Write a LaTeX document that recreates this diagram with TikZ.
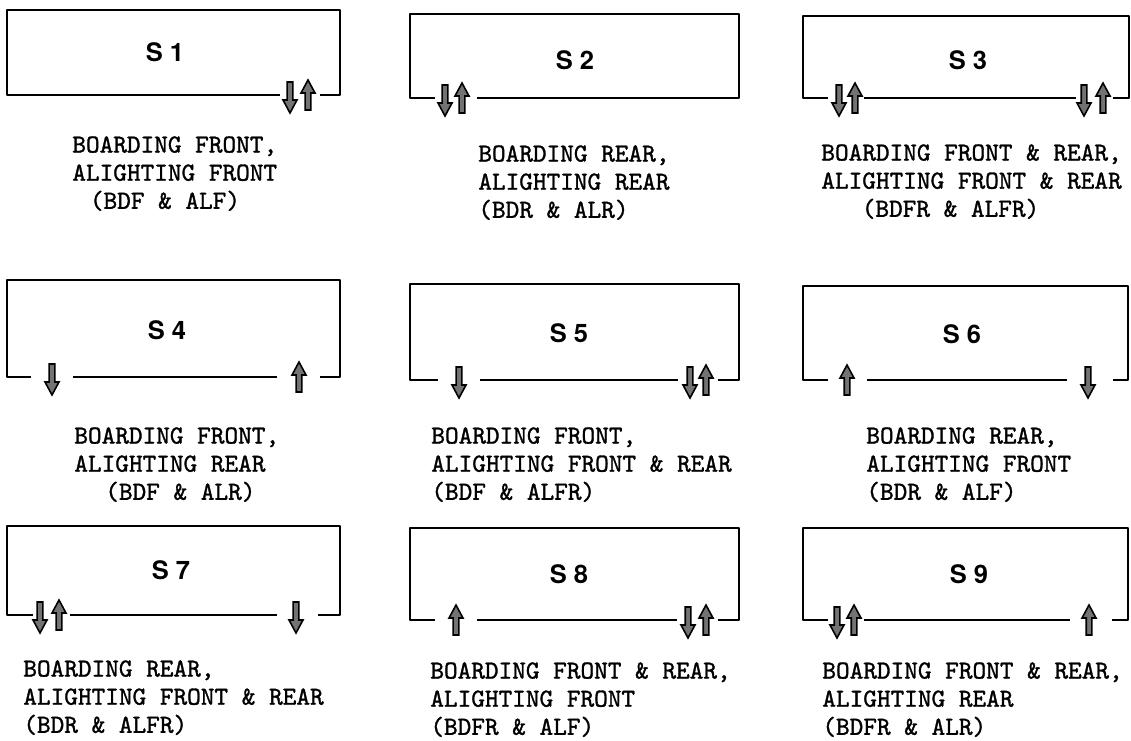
\documentclass[tikz,border=0pt]{standalone}
\usepackage{fontspec}
\newfontfamily\headfont{TeX Gyre Heros}
\newfontfamily\typefont{lmmono10-regular.otf}[FakeBold=1.2]

\begin{document}
\begin{tikzpicture}[x=0.02cm, y=-0.02cm,
    boxline/.style={line width=1.3pt, line join=round},
    lbl/.style={font=\headfont\bfseries\fontsize{14.5}{16}\selectfont},
    captxt/.style={anchor=north west, inner sep=0pt, align=left, font=\typefont\fontsize{14.8}{16}\selectfont},
    arr/.style={fill=black!55, draw=black, line width=0.9pt, line join=miter},
    dnarr/.pic={\path[arr] (-2.8,-13) -- (2.8,-13) -- (2.8,5) -- (7,5) -- (0,18) -- (-7,5) -- (-2.8,5) -- cycle;},
    uparr/.pic={\path[arr] (-2.8,15) -- (2.8,15) -- (2.8,-2) -- (7,-2) -- (0,-15) -- (-7,-2) -- (-2.8,-2) -- cycle;}]
    \useasboundingbox (0,0) rectangle (1131,740);

    \draw[boxline] (280,95) -- (7,95) -- (7,10) -- (340,10) -- (340,95) -- (320,95);
    \pic at (290,95) {dnarr};
    \pic at (308,95) {uparr};
    \node[lbl] (s1) at (165,52) {S 1};
    \node[captxt] (c1) at (72,136) {BOARDING FRONT,\\ALIGHTING FRONT\\\hspace*{10pt}(BDF \& ALF)};

    \draw[boxline] (435,98) -- (410,98) -- (410,14) -- (739,14) -- (739,98) -- (477,98);
    \pic at (445,98) {dnarr};
    \pic at (462,98) {uparr};
    \node[lbl] (s2) at (575,60) {S 2};
    \node[captxt] (c2) at (478,145) {BOARDING REAR,\\ALIGHTING REAR\\(BDR \& ALR)};

    \draw[boxline] (828,98) -- (803,98) -- (803,16) -- (1129,16) -- (1129,98) -- (1113,98);
    \draw[boxline] (864,98) -- (1076,98);
    \pic at (839,98) {dnarr};
    \pic at (855,98) {uparr};
    \pic at (1084,98) {dnarr};
    \pic at (1103,98) {uparr};
    \node[lbl] (s3) at (968,60) {S 3};
    \node[captxt] (c3) at (821,144) {BOARDING FRONT \& REAR,\\ALIGHTING FRONT \& REAR\\\hspace*{23pt}(BDFR \& ALFR)};

    \draw[boxline] (31,377) -- (7,377) -- (7,280) -- (340,280) -- (340,377) -- (320,377);
    \draw[boxline] (73,377) -- (277,377);
    \pic at (52,377) {dnarr};
    \pic at (299,377) {uparr};
    \node[lbl] (s4) at (167,330) {S 4};
    \node[captxt] (c4) at (74,427) {BOARDING FRONT,\\ALIGHTING REAR\\\hspace*{17.6pt}(BDF \& ALR)};

    \draw[boxline] (438,380) -- (410,380) -- (410,284) -- (739,284) -- (739,380) -- (718,380);
    \draw[boxline] (480,380) -- (678,380);
    \pic at (459,380) {dnarr};
    \pic at (690,380) {dnarr};
    \pic at (706,380) {uparr};
    \node[lbl] (s5) at (569,333) {S 5};
    \node[captxt] (c5) at (431,427) {BOARDING FRONT,\\ALIGHTING FRONT \& REAR\\(BDF \& ALFR)};

    \draw[boxline] (828,380) -- (803,380) -- (803,286) -- (1128,286) -- (1128,380) -- (1113,380);
    \draw[boxline] (867,380) -- (1067,380);
    \pic at (847,380) {uparr};
    \pic at (1088,380) {dnarr};
    \node[lbl] (s6) at (962,334) {S 6};
    \node[captxt] (c6) at (866,427) {BOARDING REAR,\\ALIGHTING FRONT\\(BDR \& ALF)};

    \draw[boxline] (33,615) -- (7,615) -- (7,526) -- (340,526) -- (340,615) -- (318,615);
    \draw[boxline] (70,615) -- (277,615);
    \pic at (40,615) {dnarr};
    \pic at (59,615) {uparr};
    \pic at (296,615) {dnarr};
    \node[lbl] (s7) at (171,570) {S 7};
    \node[captxt] (c7) at (23,660) {BOARDING REAR,\\ALIGHTING FRONT \& REAR\\(BDR \& ALFR)};

    \draw[boxline] (435,620) -- (410,620) -- (410,528) -- (739,528) -- (739,620) -- (718,620);
    \draw[boxline] (477,620) -- (677,620);
    \pic at (456,620) {uparr};
    \pic at (688,620) {dnarr};
    \pic at (706,620) {uparr};
    \node[lbl] (s8) at (569,574) {S 8};
    \node[captxt] (c8) at (430,662) {BOARDING FRONT \& REAR,\\ALIGHTING FRONT\\(BDFR \& ALF)};

    \draw[boxline] (828,620) -- (803,620) -- (803,528) -- (1128,528) -- (1128,620) -- (1112,620);
    \draw[boxline] (864,620) -- (1070,620);
    \pic at (837,620) {dnarr};
    \pic at (854,620) {uparr};
    \pic at (1089,620) {uparr};
    \node[lbl] (s9) at (969,574) {S 9};
    \node[captxt] (c9) at (822,662) {BOARDING FRONT \& REAR,\\ALIGHTING REAR\\(BDFR \& ALR)};
\end{tikzpicture}
\end{document}
